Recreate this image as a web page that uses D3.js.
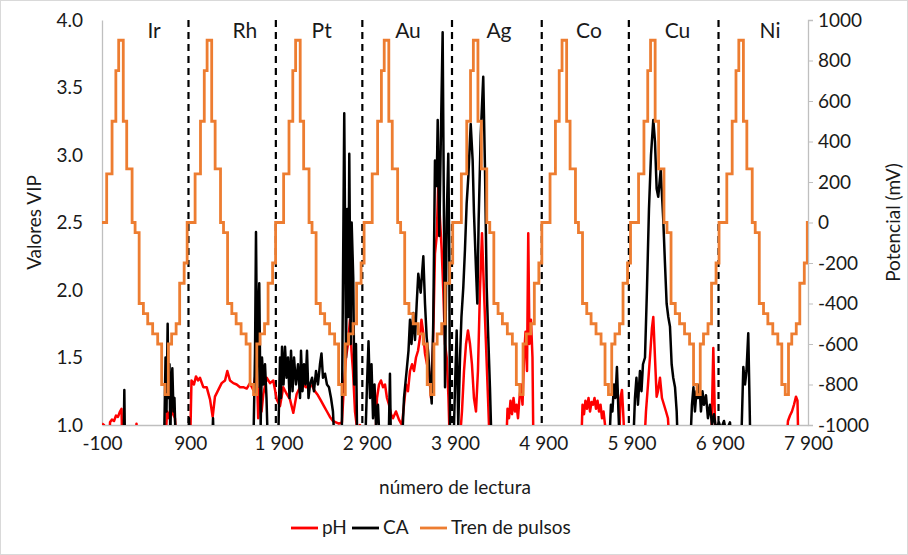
<!DOCTYPE html>
<html>
<head>
<meta charset="utf-8">
<script src="https://cdn.jsdelivr.net/npm/d3@7"></script>
<style>
  html, body { margin: 0; padding: 0; background: #fff; }
  svg text { font-family: "Lato", "Open Sans", sans-serif; fill: #1a1a1a; }
</style>
</head>
<body>
<svg id="chart" width="908" height="555"></svg>
<script>
// Element tested in each segment and the x position of its label
const elements = ["Ir", "Rh", "Pt", "Au", "Ag", "Co", "Cu", "Ni"];
const elementLabelX = [490, 1520, 2389, 3367, 4398, 5418, 6421, 7469];
// Boundaries between segments (reading number)
const boundaries = [880, 1870, 2850, 3866, 4883, 5870, 6886];

// Axis ticks
const xTicks = [-100, 900, 1900, 2900, 3900, 4900, 5900, 6900, 7900];
const vipTicks = [1.0, 1.5, 2.0, 2.5, 3.0, 3.5, 4.0];
const mvTicks = [-1000, -800, -600, -400, -200, 0, 200, 400, 600, 800, 1000];

// pH VIP values (values below 1.0 fall under the axis)
const phX = [-100, -77, -66, -21, -9, 13, 36, 59, 81, 104, 121, 132, 274, 291, 308,
  614, 637, 659, 682, 705, 727, 750,
  897, 914, 942, 965, 988, 1010, 1048, 1086, 1124, 1154, 1180, 1218, 1256, 1294, 1320, 1350, 1388, 1426, 1464, 1501, 1540, 1577, 1614, 1653, 1670, 1690, 1708, 1728, 1766, 1804, 1841, 1880, 1917, 1954, 1993, 2030, 2068, 2106, 2144,
  2178, 2212, 2246, 2280, 2313, 2347, 2381, 2415, 2449, 2483, 2517, 2551, 2585, 2619, 2642, 2665, 2687, 2710, 2727, 2744, 2767, 2789, 2823, 2857,
  2993, 3016, 3039, 3061, 3084, 3107, 3129, 3152, 3175, 3197, 3231, 3265, 3299,
  3322, 3345, 3367, 3390, 3413, 3435, 3458, 3481, 3503, 3520, 3537, 3560, 3583, 3605, 3628, 3651, 3673, 3693, 3711, 3730, 3749, 3767, 3787, 3806, 3826, 3843,
  3945, 3979, 4002, 4025, 4047, 4070, 4092, 4115, 4138, 4160, 4183, 4206, 4228, 4251, 4274, 4296,
  4478, 4495, 4512, 4529, 4546, 4563, 4580, 4597, 4614, 4631, 4648, 4665, 4682, 4699, 4716, 4730, 4744, 4761, 4778, 4789,
  5328, 5345, 5362, 5378, 5395, 5413, 5430, 5447, 5464, 5481, 5498, 5515, 5532, 5549, 5566, 5583, 5600, 5617,
  5758, 5775, 5792, 5809, 5826,
  6041, 6064, 6087, 6109, 6132, 6147, 6166, 6185, 6200, 6223, 6245, 6268, 6291, 6313, 6336,
  6801, 6818, 6827, 6840, 6852,
  7650, 7673, 7696, 7718, 7741, 7764, 7781, 7792, 7900];
const phY = [1.01, 1.0, 0.8, 0.8, 1.02, 1.04, 1.03, 1.07, 1.06, 1.1, 1.12, 0.8, 0.8, 1.01, 0.8,
  0.8, 1.1, 1.05, 1.15, 1.08, 1.05, 0.8,
  0.8, 1.33, 1.3, 1.36, 1.33, 1.35, 1.28, 1.28, 1.19, 1.06, 1.21, 1.26, 1.31, 1.33, 1.40, 1.33, 1.31, 1.30, 1.28, 1.28, 1.27, 1.31, 1.26, 1.43, 1.05, 1.28, 1.1, 1.23, 1.35, 1.31, 1.33, 1.19, 1.14, 1.28, 1.23, 1.19, 1.09, 1.23, 1.28,
  1.3, 1.28, 1.3, 1.29, 1.25, 1.22, 1.18, 1.14, 1.1, 1.06, 1.03, 1.02, 1.01, 1.02, 1.3, 1.5, 1.6, 1.78, 1.55, 1.4, 1.1, 0.98, 1.0, 0.8,
  0.8, 1.2, 1.3, 1.33, 1.28, 1.3, 1.2, 1.15, 1.08, 1.05, 1.1, 1.04, 1.0,
  1.15, 1.3, 1.25, 1.4, 1.45, 1.4, 1.5, 1.55, 1.65, 1.78, 1.7, 1.53, 1.45, 1.4, 1.2, 1.6, 2.27, 2.4, 2.8, 2.52, 2.3, 2.0, 1.6, 1.5, 1.2, 0.8,
  0.8, 1.1, 1.4, 1.6, 1.7, 1.6, 1.45, 1.2, 1.1, 1.4, 2.0, 2.42, 2.0, 1.6, 1.2, 0.8,
  0.8, 1.12, 1.05, 1.18, 1.08, 1.2, 1.1, 1.15, 1.05, 1.2, 1.3, 1.15, 1.5, 1.69, 1.4, 2.42, 1.6, 1.78, 1.5, 0.8,
  0.8, 1.15, 1.08, 1.18, 1.12, 1.2, 1.1, 1.17, 1.15, 1.2, 1.12, 1.18, 1.1, 1.15, 1.05, 1.1, 1.0, 0.8,
  0.8, 1.2, 1.26, 1.05, 0.8,
  0.8, 1.1, 1.3, 1.5, 1.72, 1.8, 1.5, 1.21, 1.25, 1.35, 1.2, 1.15, 1.1, 1.05, 0.8,
  0.8, 1.3, 1.57, 1.2, 0.8,
  0.8, 1.03, 1.07, 1.1, 1.15, 1.21, 1.18, 0.8, 0.8];

// CA VIP values
const caX = [-100, 144, 153, 161, 602, 620, 631, 644, 653, 665, 674, 685, 697, 710, 721, 738, 874, 886, 897,
  1146, 1158, 1169, 1614, 1634, 1645, 1660, 1671, 1682, 1698, 1713, 1730, 1747, 1764, 1781,
  1894, 1917, 1928, 1940, 1957, 1974, 1991, 2008, 2025, 2042, 2059, 2076, 2098, 2121, 2144,
  2155, 2172, 2189, 2206, 2223, 2240, 2257, 2280, 2302, 2325, 2347, 2370, 2387, 2404, 2427, 2449, 2472, 2495, 2517, 2540,
  2616, 2645, 2665, 2679, 2691, 2702, 2718, 2729, 2747, 2759, 2778, 2793,
  2880, 2903, 2920, 2937, 2954, 2971, 2988, 3005, 3027, 3050,
  3146, 3163, 3175,
  3296, 3322, 3353, 3373, 3390, 3407, 3427, 3447, 3466, 3484, 3511, 3541, 3560, 3579, 3597, 3617, 3636, 3654, 3673, 3692, 3704, 3722, 3738, 3760, 3775, 3787, 3806, 3824, 3835, 3843, 3851,
  3881, 3900, 3919, 3937, 3957, 3973, 3994, 4013, 4032, 4051, 4078, 4100, 4115, 4138, 4153, 4168, 4191, 4220, 4240, 4259, 4277, 4296, 4316,
  5645, 5667, 5684, 5701, 5718, 5735, 5752, 5769,
  5917, 5939, 5956, 5973, 5996, 6013, 6030, 6053, 6075, 6098, 6121, 6147, 6166, 6185, 6203, 6231, 6260, 6279, 6298, 6317, 6336, 6355, 6373, 6393, 6412, 6427,
  6563, 6585, 6602, 6619, 6636, 6653, 6670, 6687, 6704, 6721, 6744, 6766, 6789, 6812, 6835, 6857, 6891, 6914, 6948, 6971, 7016, 7039,
  7141, 7167, 7186, 7203, 7223, 7237, 7248, 7900];
const caY = [0.8, 0.8, 1.26, 0.8, 0.8, 1.5, 1.1, 1.75, 1.2, 1.45, 0.9, 1.3, 1.42, 1.1, 1.2, 0.8, 0.8, 1.05, 0.8,
  0.8, 1.05, 0.8, 0.8, 1.53, 2.43, 1.28, 1.83, 2.05, 1.0, 1.5, 1.3, 1.45, 1.2, 0.8,
  0.8, 1.5, 1.2, 1.58, 1.3, 1.58, 1.35, 1.5, 1.2, 1.55, 1.25, 1.5, 1.3, 1.45, 1.2,
  1.55, 1.25, 1.45, 1.3, 1.55, 1.2, 1.3, 1.35, 1.25, 1.4, 1.3, 1.45, 1.53, 1.35, 1.38, 1.3, 1.28, 1.2, 1.1, 0.8,
  0.8, 3.31, 1.5, 2.6, 1.8, 3.01, 1.6, 2.5, 2.09, 1.3, 1.6, 0.8,
  0.8, 1.3, 1.62, 1.2, 1.45, 1.05, 1.3, 1.0, 1.15, 0.8,
  0.8, 1.38, 0.8,
  0.8, 1.2, 1.41, 1.55, 1.78, 1.6, 1.83, 1.63, 1.9, 2.12, 1.98, 2.25, 1.9, 1.65, 1.53, 1.33, 1.16, 1.78, 2.96, 2.77, 3.26, 2.4, 3.06, 3.91, 2.52, 1.28, 2.52, 3.01, 2.27, 1.0, 0.8,
  0.8, 1.28, 1.7, 1.0, 1.5, 1.8, 2.02, 2.3, 2.64, 2.84, 3.23, 2.96, 2.57, 2.15, 1.9, 2.52, 3.14, 3.58, 2.89, 2.02, 1.65, 1.28, 0.8,
  0.8, 1.15, 1.1, 1.3, 1.2, 1.43, 1.1, 0.8,
  0.8, 1.2, 1.35, 1.15, 1.4, 1.25, 1.45, 1.5, 2.0, 2.6, 3.0, 3.26, 3.1, 2.75, 2.69, 2.89, 2.52, 2.2, 1.9, 1.8, 1.73, 1.45, 1.35, 1.28, 1.1, 0.8,
  0.8, 1.15, 1.28, 1.1, 1.25, 1.2, 1.3, 1.1, 1.25, 1.15, 1.22, 1.05, 1.15, 1.0, 1.08, 0.97, 1.02, 0.97, 1.03, 0.95, 1.02, 0.8,
  0.8, 1.43, 1.3, 1.4, 1.68, 1.2, 0.8, 0.8];

// Pulse train: start of each cycle, and the staircase (offset from cycle start, potential in mV)
const cycleStarts = [-47, 955, 1958, 2962, 3972, 4977, 5980, 6980];
const stepOffsets = [0, 61, 104, 136, 188, 227, 288, 322, 368, 416, 465, 521, 578, 623, 662, 699, 736, 787, 827, 878, 912];
const stepLevels = [240, 500, 750, 900, 500, 265, 0, -50, -400, -450, -500, -550, -600, -800, -850, -600, -550, -500, -300, -200, 0];

const svg = d3.select("#chart");
const W = 908, H = 555;
const plotL = 102, plotR = 808, plotT = 20, plotB = 425;
const fs = 19;

// chart frame
svg.append("rect").attr("x", 0.5).attr("y", 0.5).attr("width", W - 1).attr("height", H - 1)
  .attr("fill", "#fff").attr("stroke", "#d9d9d9");

const x = d3.scaleLinear().domain([-100, 7900]).range([plotL, plotR]);
const yL = d3.scaleLinear().domain([1, 4]).range([plotB, plotT]);
const yR = d3.scaleLinear().domain([-1000, 1000]).range([plotB, plotT]);

svg.append("clipPath").attr("id", "plot").append("rect")
  .attr("x", plotL).attr("y", plotT).attr("width", plotR - plotL).attr("height", plotB - plotT);

// axes
const fmtX = d => Math.abs(d) >= 1000 ? String(d).replace(/(\d)(\d{3})$/, "$1 $2") : String(d);
const xAxis = svg.append("g").attr("transform", `translate(0,${plotB})`)
  .call(d3.axisBottom(x).tickValues(xTicks).tickSize(0).tickPadding(12).tickFormat(fmtX));
const lAxis = svg.append("g").attr("transform", `translate(${plotL},0)`)
  .call(d3.axisLeft(yL).tickValues(vipTicks).tickSize(0).tickPadding(19).tickFormat(d3.format(".1f")));
const rAxis = svg.append("g").attr("transform", `translate(${plotR},0)`)
  .call(d3.axisRight(yR).tickValues(mvTicks).tickSize(5).tickPadding(5).tickFormat(d => String(d)));
[xAxis, lAxis, rAxis].forEach(g => {
  g.select(".domain").attr("stroke", "#bfbfbf").attr("stroke-width", 1.3);
  g.selectAll(".tick line").attr("stroke", "#bfbfbf");
  g.selectAll("text").attr("font-size", fs).attr("font-family", "Lato, sans-serif").attr("fill", "#1a1a1a");
});

// axis titles
svg.append("text").attr("transform", `translate(41,${(plotT + plotB) / 2}) rotate(-90)`)
  .attr("text-anchor", "middle").attr("font-size", fs).text("Valores VIP");
svg.append("text").attr("transform", `translate(900,${(plotT + plotB) / 2}) rotate(-90)`)
  .attr("text-anchor", "middle").attr("font-size", fs).text("Potencial (mV)");
svg.append("text").attr("x", (plotL + plotR) / 2).attr("y", 494)
  .attr("text-anchor", "middle").attr("font-size", fs).text("número de lectura");

const plot = svg.append("g").attr("clip-path", "url(#plot)");

// segment boundaries
plot.selectAll("line.bound").data(boundaries).join("line")
  .attr("x1", d => x(d)).attr("x2", d => x(d)).attr("y1", plotT).attr("y2", plotB)
  .attr("stroke", "#000").attr("stroke-width", 2.2).attr("stroke-dasharray", "7,5");

// series
const phData = phX.map((v, i) => [v, phY[i]]);
const caData = caX.map((v, i) => [v, caY[i]]);
const pulseData = [[-100, 0]];
cycleStarts.forEach(c => stepOffsets.forEach((o, i) => pulseData.push([c + o, stepLevels[i]])));
pulseData.push([7900, pulseData[pulseData.length - 1][1]]);

const lineVIP = d3.line().x(d => x(d[0])).y(d => yL(d[1]));
const linePulse = d3.line().x(d => x(d[0])).y(d => yR(d[1])).curve(d3.curveStepAfter);

plot.append("path").datum(phData).attr("d", lineVIP)
  .attr("fill", "none").attr("stroke", "#ff0000").attr("stroke-width", 2.5).attr("stroke-linejoin", "round");
plot.append("path").datum(caData).attr("d", lineVIP)
  .attr("fill", "none").attr("stroke", "#000").attr("stroke-width", 2.5).attr("stroke-linejoin", "round");
plot.append("path").datum(pulseData).attr("d", linePulse)
  .attr("fill", "none").attr("stroke", "#ed7d31").attr("stroke-width", 2.8);

// element labels
svg.selectAll("text.el").data(elements).join("text")
  .attr("class", "el")
  .attr("x", (d, i) => x(elementLabelX[i])).attr("y", 38)
  .attr("text-anchor", "middle").attr("font-size", 21).text(d => d);

// legend
const legend = [
  { name: "pH", color: "#ff0000", x: 291 },
  { name: "CA", color: "#000000", x: 352 },
  { name: "Tren de pulsos", color: "#ed7d31", x: 420 }
];
const lg = svg.append("g");
legend.forEach(l => {
  lg.append("line").attr("x1", l.x).attr("x2", l.x + 27).attr("y1", 528).attr("y2", 528)
    .attr("stroke", l.color).attr("stroke-width", 2.8);
  lg.append("text").attr("x", l.x + 31).attr("y", 534).attr("font-size", fs).text(l.name);
});
</script>
</body>
</html>
